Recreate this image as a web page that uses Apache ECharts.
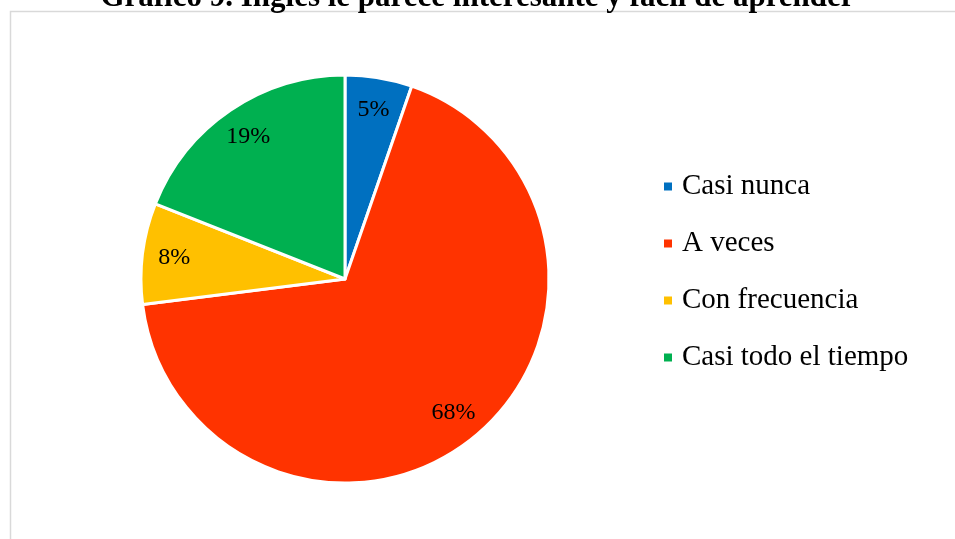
<!DOCTYPE html>
<html>
<head>
    <meta charset="utf-8">
    <script src="https://cdn.jsdelivr.net/npm/echarts@6/dist/echarts.min.js"></script>
</head>
<body>
<style>
    html, body, #main {
        width: 100%;
        height: 100%;
        margin: 0;
        padding: 0;
        background: #fff;
    }
</style>
<div id="main"></div>
<script>
    var titleText = 'Gráfico 9. Inglés le parece interesante y fácil de aprender';
    var categories = ['Casi nunca', 'A veces', 'Con frecuencia', 'Casi todo el tiempo'];
    var values = [5.3, 67.7, 8.0, 19.0];
    var colors = ['#0070C0', '#FF3300', '#FFC000', '#00B050'];

    var chart = echarts.init(document.getElementById('main'));

    var pieData = categories.map(function (name, i) {
        return {name: name, value: values[i], itemStyle: {color: colors[i]}};
    });

    var fontFamily = '"Liberation Serif", "Times New Roman", serif';

    chart.setOption({
        animation: false,
        title: {
            text: titleText,
            left: 'center',
            top: -23,
            textStyle: {
                fontFamily: fontFamily,
                fontSize: 31,
                fontWeight: 'bold',
                color: '#000'
            }
        },
        graphic: [{
            type: 'rect',
            shape: {x: 10.5, y: 11.5, width: 960, height: 540},
            style: {fill: 'none', stroke: '#d9d9d9', lineWidth: 1.5},
            z: -1
        }],
        legend: {
            orient: 'vertical',
            left: 657,
            top: 167,
            itemWidth: 10,
            itemHeight: 10,
            itemGap: 28,
            icon: 'rect',
            data: categories,
            textStyle: {
                fontFamily: fontFamily,
                fontSize: 29,
                lineHeight: 29,
                color: '#000',
                padding: [0, 0, 0, 4]
            }
        },
        series: [{
            type: 'pie',
            center: [345, 279],
            radius: 204,
            startAngle: 90,
            clockwise: true,
            label: {show: false},
            labelLine: {show: false},
            itemStyle: {borderColor: '#fff', borderWidth: 3},
            emphasis: {disabled: true},
            data: pieData
        }, {
            // transparent ring only used to place the labels further out
            type: 'pie',
            center: [345, 279],
            radius: [134, 204],
            startAngle: 90,
            clockwise: true,
            silent: true,
            legendHoverLink: false,
            itemStyle: {color: 'rgba(0,0,0,0)', borderWidth: 0},
            emphasis: {disabled: true},
            label: {
                show: true,
                position: 'inside',
                fontFamily: fontFamily,
                fontSize: 24,
                color: '#000',
                formatter: function (p) {
                    return Math.round(p.value) + '%';
                }
            },
            labelLine: {show: false},
            data: categories.map(function (name, i) {
                return {name: name, value: values[i]};
            })
        }]
    });
</script>
</body>
</html>
